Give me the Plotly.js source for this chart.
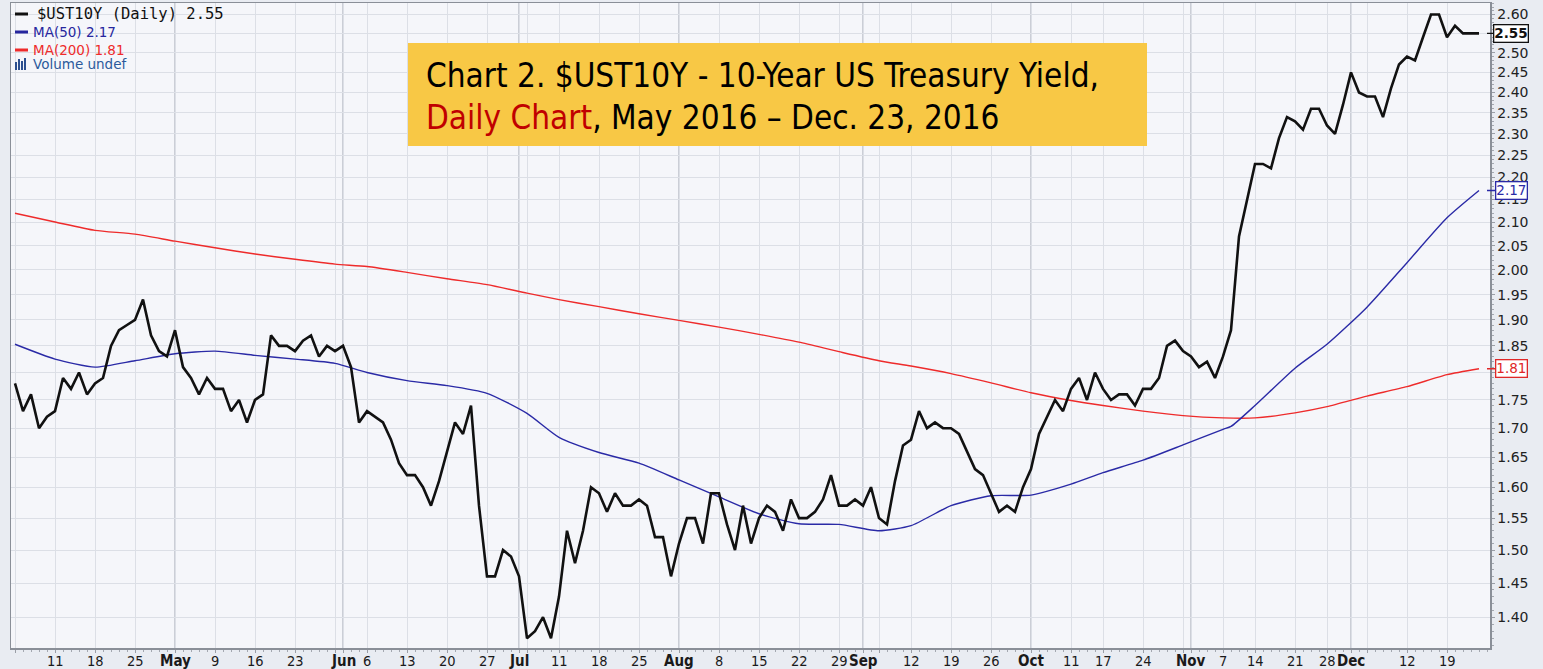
<!DOCTYPE html>
<html>
<head>
<meta charset="utf-8">
<script src="https://cdn.plot.ly/plotly-3.0.1.min.js"></script>
<style>
html,body{margin:0;padding:0;background:#e9ecf2;}
#chart{width:1543px;height:669px;}
</style>
</head>
<body>
<div id="chart"></div>
<script>
// ---- trading days (bond market, 2016) ----
const dates = [
"04-04","04-05","04-06","04-07","04-08","04-11","04-12","04-13","04-14","04-15",
"04-18","04-19","04-20","04-21","04-22","04-25","04-26","04-27","04-28","04-29",
"05-02","05-03","05-04","05-05","05-06","05-09","05-10","05-11","05-12","05-13",
"05-16","05-17","05-18","05-19","05-20","05-23","05-24","05-25","05-26","05-27","05-31",
"06-01","06-02","06-03","06-06","06-07","06-08","06-09","06-10","06-13","06-14",
"06-15","06-16","06-17","06-20","06-21","06-22","06-23","06-24","06-27","06-28","06-29","06-30",
"07-01","07-05","07-06","07-07","07-08","07-11","07-12","07-13","07-14","07-15",
"07-18","07-19","07-20","07-21","07-22","07-25","07-26","07-27","07-28","07-29",
"08-01","08-02","08-03","08-04","08-05","08-08","08-09","08-10","08-11","08-12",
"08-15","08-16","08-17","08-18","08-19","08-22","08-23","08-24","08-25","08-26",
"08-29","08-30","08-31",
"09-01","09-02","09-06","09-07","09-08","09-09","09-12","09-13","09-14","09-15","09-16",
"09-19","09-20","09-21","09-22","09-23","09-26","09-27","09-28","09-29","09-30",
"10-03","10-04","10-05","10-06","10-07","10-11","10-12","10-13","10-14",
"10-17","10-18","10-19","10-20","10-21","10-24","10-25","10-26","10-27","10-28","10-31",
"11-01","11-02","11-03","11-04","11-07","11-08","11-09","11-10","11-14","11-15",
"11-16","11-17","11-18","11-21","11-22","11-23","11-25","11-28","11-29","11-30",
"12-01","12-02","12-05","12-06","12-07","12-08","12-09","12-12","12-13","12-14",
"12-15","12-16","12-19","12-20","12-21","12-22","12-23"
];

// ---- $UST10Y daily close ----
const yields = [
1.78,1.73,1.76,1.70,1.72,1.73,1.79,1.77,1.80,1.76,
1.78,1.79,1.85,1.88,1.89,1.90,1.94,1.87,1.84,1.83,
1.88,1.81,1.79,1.76,1.79,1.77,1.77,1.73,1.75,1.71,
1.75,1.76,1.87,1.85,1.85,1.84,1.86,1.87,1.83,1.85,1.84,
1.85,1.81,1.71,1.73,1.72,1.71,1.68,1.64,1.62,1.62,
1.60,1.57,1.61,1.66,1.71,1.69,1.74,1.57,1.46,1.46,1.50,1.49,
1.46,1.37,1.38,1.40,1.37,1.43,1.53,1.48,1.53,1.60,
1.59,1.56,1.59,1.57,1.57,1.58,1.57,1.52,1.52,1.46,
1.51,1.55,1.55,1.51,1.59,1.59,1.54,1.50,1.57,1.51,
1.55,1.57,1.56,1.53,1.58,1.55,1.55,1.56,1.58,1.62,
1.57,1.57,1.58,
1.57,1.60,1.55,1.54,1.61,1.67,1.68,1.73,1.70,1.71,1.70,
1.70,1.69,1.66,1.63,1.62,1.59,1.56,1.57,1.56,1.60,
1.63,1.69,1.72,1.75,1.73,1.77,1.79,1.75,1.80,
1.77,1.75,1.76,1.76,1.74,1.77,1.77,1.79,1.85,1.86,1.84,
1.83,1.81,1.82,1.79,1.83,1.88,2.07,2.15,2.23,2.23,
2.22,2.29,2.34,2.33,2.31,2.36,2.36,2.32,2.30,2.37,
2.45,2.40,2.39,2.39,2.34,2.41,2.47,2.49,2.48,2.54,
2.60,2.60,2.54,2.57,2.55,2.55,2.55
];

// ---- MA(50) ----
const ma50Dates = ["04-04","04-11","04-18","04-25","05-02","05-09","05-16","05-23","05-31","06-06",
"06-13","06-20","06-27","07-05","07-11","07-18","07-25","08-01","08-08","08-15","08-22","08-29",
"09-06","09-12","09-19","09-26","10-03","10-11","10-17","10-24","10-31","11-07","11-08","11-14",
"11-21","11-28","12-05","12-12","12-19","12-23"];
const ma50 = [1.853,1.825,1.810,1.822,1.835,1.840,1.832,1.825,1.817,1.800,
1.785,1.776,1.762,1.726,1.684,1.658,1.640,1.612,1.584,1.557,1.541,1.540,
1.530,1.538,1.570,1.586,1.587,1.605,1.624,1.645,1.671,1.698,1.703,1.740,
1.808,1.853,1.925,2.015,2.110,2.170];

// ---- MA(200) ----
const ma200Dates = ["04-04","04-11","04-18","04-25","05-02","05-09","05-16","05-23","05-31","06-06",
"06-13","06-20","06-27","07-05","07-11","07-18","07-25","08-01","08-08","08-15","08-22","08-29",
"09-06","09-12","09-19","09-26","10-03","10-11","10-17","10-24","10-31","11-07","11-14",
"11-21","11-28","12-05","12-12","12-19","12-23"];
const ma200 = [2.120,2.101,2.083,2.075,2.060,2.046,2.033,2.022,2.012,2.007,
1.995,1.982,1.970,1.953,1.940,1.926,1.912,1.899,1.886,1.872,1.857,1.839,
1.822,1.812,1.798,1.781,1.763,1.749,1.740,1.730,1.722,1.718,1.718,
1.727,1.738,1.757,1.774,1.796,1.807];

// ---- x-axis ticks ----
const tickDates = ["04-04","04-11","04-18","04-25","05-02","05-09","05-16","05-23","05-31","06-01","06-06",
"06-13","06-20","06-27","07-01","07-05","07-11","07-18","07-25","08-01","08-08","08-15","08-22",
"08-29","09-01","09-06","09-12","09-19","09-26","10-03","10-11","10-17","10-24","10-31","11-01",
"11-07","11-14","11-21","11-28","12-01","12-05","12-12","12-19"];
const tickLabels = ["","11","18","25","May","9","16","23","","Jun","6",
"13","20","27","Jul","","11","18","25","Aug","8","15","22",
"29","Sep","","12","19","26","Oct","11","17","24","","Nov",
"7","14","21","28","Dec","","12","19"];
const monthStarts = ["05-02","06-01","07-01","08-01","09-01","10-03","11-01","12-01"];

// ---- y-axis ticks ----
const yTicks = [1.40,1.45,1.50,1.55,1.60,1.65,1.70,1.75,1.80,1.85,1.90,1.95,2.00,
2.05,2.10,2.15,2.20,2.25,2.30,2.35,2.40,2.45,2.50,2.55,2.60];

// ---------------------------------------------------------------
const idx = d => dates.indexOf(d);
const W = 1543, H = 669;
const PL = 11, PR = 1490, PT = 3, PB = 648;
const px = x => (x - PL) / (PR - PL);
const py = y => 1 - (y - PT) / (PB - PT);

const narrow = "Liberation Sans Narrow, Arial Narrow, DejaVu Sans Condensed, sans-serif";

const minorY = [];
for (let k = 136; k <= 263; k++) minorY.push(k / 100);

const traces = [
  {x: ma200Dates.map(idx), y: ma200, type: 'scatter', mode: 'lines',
   line: {color: '#ee2b2b', width: 1.4, shape: 'spline', smoothing: 0.6}, hoverinfo: 'skip'},
  {x: ma50Dates.map(idx), y: ma50, type: 'scatter', mode: 'lines',
   line: {color: '#2a2aa6', width: 1.4, shape: 'spline', smoothing: 0.6}, hoverinfo: 'skip'},
  {x: dates.map((d, i) => i), y: yields, type: 'scatter', mode: 'lines',
   line: {color: '#111111', width: 2.6}, hoverinfo: 'skip'}
];

const shapes = [];
monthStarts.forEach(d => shapes.push({
  type: 'line', xref: 'x', yref: 'paper', x0: idx(d), x1: idx(d), y0: 0, y1: 1,
  line: {color: '#b4b8c3', width: 1.3}, layer: 'between'
}));

// title box
shapes.push({type: 'rect', xref: 'paper', yref: 'paper',
  x0: px(408), x1: px(1147), y0: py(146), y1: py(43),
  fillcolor: '#f8c845', line: {width: 0}, layer: 'above'});

// legend dashes
const legendRows = [
  {y: 14, color: '#111111'},
  {y: 32, color: '#26269e'},
  {y: 50, color: '#ee2b2b'}
];
legendRows.forEach(r => shapes.push({type: 'line', xref: 'paper', yref: 'paper',
  x0: px(15), x1: px(28), y0: py(r.y), y1: py(r.y),
  line: {color: r.color, width: 3}, layer: 'above'}));
// volume icon bars
[[15, 17, 62], [18, 20, 59], [21, 23, 61], [24, 26, 58]].forEach(b => shapes.push({
  type: 'rect', xref: 'paper', yref: 'paper', x0: px(b[0]), x1: px(b[1]),
  y0: py(70), y1: py(b[2]), fillcolor: '#2c4f8f', line: {width: 0}, layer: 'above'}));

const lastY = yields[yields.length - 1];
const lastMa50 = ma50[ma50.length - 1];
const lastMa200 = ma200[ma200.length - 1];

const annotations = [
  {xref: 'paper', yref: 'paper', x: px(424), y: py(75), xanchor: 'left', yanchor: 'middle',
   text: 'Chart 2. $UST10Y - 10-Year US Treasury Yield,', showarrow: false,
   font: {family: narrow, size: 33, color: '#000000'}},
  {xref: 'paper', yref: 'paper', x: px(424), y: py(118), xanchor: 'left', yanchor: 'middle',
   text: '<span style="color:#c00000">Daily Chart</span>, May 2016 \u2013 Dec. 23, 2016', showarrow: false,
   font: {family: narrow, size: 33, color: '#000000'}},
  {xref: 'paper', yref: 'paper', x: px(35), y: py(14), xanchor: 'left', yanchor: 'middle',
   text: '$UST10Y (Daily) ' + lastY.toFixed(2), showarrow: false,
   font: {family: 'DejaVu Sans Mono, monospace', size: 15.5, color: '#111111'}},
  {xref: 'paper', yref: 'paper', x: px(31), y: py(32), xanchor: 'left', yanchor: 'middle',
   text: 'MA(50) ' + lastMa50.toFixed(2), showarrow: false,
   font: {family: 'DejaVu Sans, sans-serif', size: 13.5, color: '#26269e'}},
  {xref: 'paper', yref: 'paper', x: px(31), y: py(50), xanchor: 'left', yanchor: 'middle',
   text: 'MA(200) ' + lastMa200.toFixed(2), showarrow: false,
   font: {family: 'DejaVu Sans, sans-serif', size: 13.5, color: '#ee2b2b'}},
  {xref: 'paper', yref: 'paper', x: px(31), y: py(64), xanchor: 'left', yanchor: 'middle',
   text: 'Volume undef', showarrow: false,
   font: {family: 'DejaVu Sans, sans-serif', size: 13.5, color: '#2c5a9c'}}
];

// x-axis labels (drawn at their tick positions)
tickDates.forEach((d, i) => {
  const s = tickLabels[i];
  if (!s) return;
  const isMonth = /^[A-Z]/.test(s);
  annotations.push({xref: 'x', yref: 'paper', x: idx(d), y: py(661), xanchor: 'center', yanchor: 'middle',
    text: isMonth ? '<b>' + s + '</b>' : s, showarrow: false,
    font: {family: narrow, size: isMonth ? 15 : 14.5, color: '#1a1a1a'}});
});

// value tags on the right axis
const tags = [
  {v: lastY, color: '#111111', bold: true},
  {v: lastMa50, color: '#2a2aa6', bold: false},
  {v: lastMa200, color: '#e02828', bold: false}
];
tags.forEach(t => annotations.push({
  xref: 'paper', yref: 'y', x: 1, xshift: -3, y: Math.log10(t.v),
  text: t.bold ? '<b>' + t.v.toFixed(2) + '</b>' : t.v.toFixed(2),
  showarrow: true, arrowhead: 0, arrowwidth: 1.3, arrowcolor: t.color, ax: 24, ay: 0,
  bgcolor: '#ffffff', bordercolor: t.color, borderwidth: 1.3, borderpad: 0,
  font: {family: 'DejaVu Sans, sans-serif', size: 13.5, color: t.color}
}));

const layout = {
  width: W, height: H,
  margin: {l: PL, r: W - PR, t: PT, b: H - PB, pad: 0},
  paper_bgcolor: '#e9ecf2',
  plot_bgcolor: '#f5f6fa',
  showlegend: false,
  xaxis: {
    range: [-0.5, (PR - PL) / 8 - 0.5],
    tickmode: 'array',
    tickvals: tickDates.map(idx),
    showticklabels: false,
    showgrid: true, gridcolor: '#dcdfe6', gridwidth: 1,
    zeroline: false,
    showline: true, linecolor: '#8a8f98', linewidth: 1.5, mirror: true,
    ticks: 'outside', ticklen: 3, tickcolor: '#9a9ea6',
    minor: {tickmode: 'linear', tick0: 0, dtick: 1, ticks: 'outside', ticklen: 2,
            tickcolor: '#a4a8b0', showgrid: false},
    fixedrange: true
  },
  yaxis: {
    type: 'log',
    side: 'right',
    range: [0.13239, 0.42011],
    tickmode: 'array',
    tickvals: yTicks,
    ticktext: yTicks.map(v => v.toFixed(2)),
    showgrid: true, gridcolor: '#dcdfe6', gridwidth: 1,
    zeroline: false,
    showline: true, linecolor: '#8a8f98', linewidth: 1.5, mirror: true,
    ticks: 'outside', ticklen: 3, tickcolor: '#9a9ea6',
    tickfont: {family: 'DejaVu Sans, sans-serif', size: 14, color: '#222222'},
    minor: {tickmode: 'array', tickvals: minorY, ticks: 'outside', ticklen: 2,
            tickcolor: '#a4a8b0', showgrid: false},
    fixedrange: true
  },
  shapes: shapes,
  annotations: annotations
};

Plotly.newPlot('chart', traces, layout, {staticPlot: true, displayModeBar: false});
</script>
</body>
</html>
